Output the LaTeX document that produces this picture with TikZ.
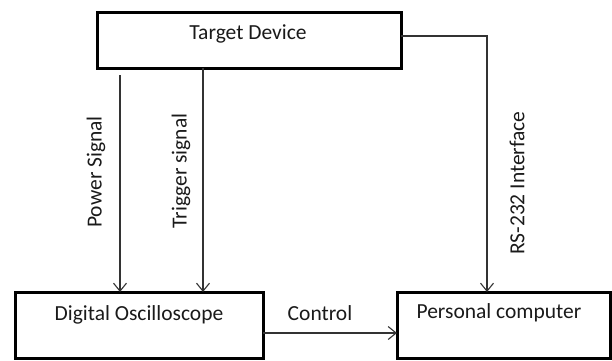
\documentclass[tikz,border=0pt]{standalone}
\usepackage{fontspec}
\setmainfont{Carlito}
\usetikzlibrary{arrows.meta}
\definecolor{txt}{HTML}{1A1A1A}
\definecolor{ln}{HTML}{333333}
\begin{document}
\begin{tikzpicture}[x=1pt,y=-1pt,
  box/.style={draw=black,line width=3pt,rectangle,outer sep=0pt,inner sep=0pt},
  lbl/.style={text=txt,font=\fontsize{21.5}{24}\selectfont,inner sep=0pt},
  conn/.style={draw=ln,line width=1.1pt,-{Straight Barb[length=8pt,width=13pt,line width=1.1pt]}}]
\useasboundingbox (0,0) rectangle (612,360);
% boxes
\node[box,minimum width=304pt,minimum height=56pt] (target) at (249,40) {};
\node[box,minimum width=248pt,minimum height=66pt] (dig) at (139,325) {};
\node[box,minimum width=213pt,minimum height=66pt] (pc) at (503.5,325) {};
% box texts
\node[lbl] (ttarget) at (248,34) {Target Device};
\node[lbl] (tdig) at (139,315) {Digital Oscilloscope};
\node[lbl] (tpc) at (499,313) {Personal computer};
% connectors
\coordinate (pstart) at (120,75);
\coordinate (tstart) at (203,68);
\coordinate (rscorner) at (487,36);
\draw[conn] (pstart) -- (pstart |- dig.north);
\draw[conn] (tstart |- target.south) -- (tstart |- dig.north);
\draw[conn] (target.east |- rscorner) -- (rscorner) -- (rscorner |- pc.north);
\draw[conn] (dig.east |- 0,333) -- (pc.west |- 0,333);
% labels
\node[lbl,rotate=90] (lpower) at (96,172) {Power Signal};
\node[lbl,rotate=90] (ltrigger) at (181,171) {Trigger signal};
\node[lbl,rotate=90] (lrs) at (517,183) {RS-232 Interface};
\node[lbl] (lcontrol) at (320,313) {Control};
\end{tikzpicture}
\end{document}
